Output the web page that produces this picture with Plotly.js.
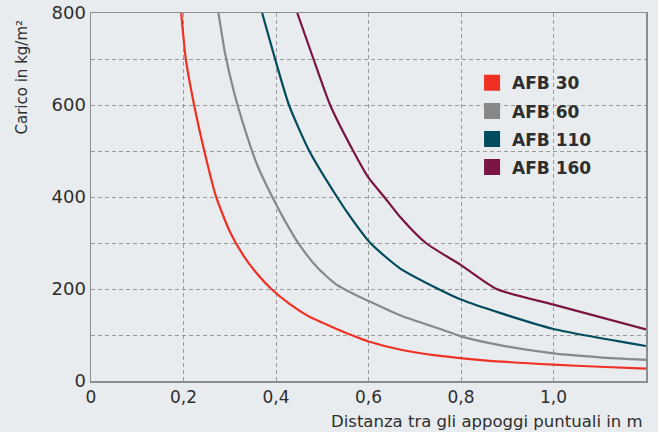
<!DOCTYPE html>
<html>
<head>
<meta charset="utf-8">
<script src="https://cdn.plot.ly/plotly-3.0.1.min.js"></script>
<style>html,body{margin:0;padding:0;background:#E9ECEF;}#chart{width:658px;height:432px;}</style>
</head>
<body>
<div id="chart"></div>
<script>
// Series names
const seriesNames = ['AFB 30', 'AFB 60', 'AFB 110', 'AFB 160'];

// Distances (m) and loads (kg/m²)
const xAFB30 = [0.195, 0.205, 0.223, 0.245, 0.27, 0.3, 0.33, 0.36, 0.39, 0.43, 0.47, 0.52, 0.56, 0.6, 0.67, 0.75, 0.85, 1.0, 1.1, 1.2];
const yAFB30 = [800, 700, 600, 500, 402, 325, 272, 232, 200, 167, 141, 118, 101, 86, 68, 55, 45, 35.5, 31, 27];

const xAFB60 = [0.2756, 0.29, 0.31, 0.335, 0.36, 0.392, 0.42, 0.45, 0.49, 0.53, 0.57, 0.6, 0.668, 0.755, 0.8, 0.884, 1.0, 1.1, 1.2];
const yAFB60 = [800, 712, 625, 540, 468, 400, 347, 297, 246, 210, 188, 174, 143, 113, 97, 78, 60, 51.5, 46];

const xAFB110 = [0.370, 0.398, 0.428, 0.472, 0.532, 0.56, 0.604, 0.668, 0.751, 0.8, 0.884, 1.0, 1.2];
const yAFB110 = [800, 700, 600, 500, 400, 358, 300, 245, 200, 177, 148, 113, 76];

const xAFB160 = [0.446, 0.481, 0.517, 0.567, 0.6, 0.634, 0.668, 0.724, 0.8, 0.877, 1.0, 1.2];
const yAFB160 = [800, 700, 600, 500, 442, 400, 357, 300, 252, 200, 166, 112];

const xTickVals = [0, 0.2, 0.4, 0.6, 0.8, 1.0, 1.2];
const xTickText = ['0', '0,2', '0,4', '0,6', '0,8', '1,0', '1,2'];
const yTickVals = [0, 200, 400, 600, 800];
const yTickText = ['0', '200', '400', '600', '800'];

const colors = ['#EE3124', '#87888A', '#004B5C', '#7A1443'];

const xs = [xAFB30, xAFB60, xAFB110, xAFB160];
const ys = [yAFB30, yAFB60, yAFB110, yAFB160];

const traces = [];
for (let i = 0; i < 4; i++) {
  traces.push({
    x: xs[i], y: ys[i], type: 'scatter', mode: 'lines',
    line: {color: colors[i], width: 2.2, shape: 'spline', smoothing: 0.6},
    showlegend: false, hoverinfo: 'skip', cliponaxis: true
  });
}
for (let i = 0; i < 4; i++) {
  traces.push({
    x: [null], y: [null], type: 'scatter', mode: 'markers',
    name: seriesNames[i], legendgroup: 'g' + i,
    marker: {symbol: 'square', size: 16, color: colors[i]},
    showlegend: true
  });
}

const gridCol = '#9A9B9D';
const axisCol = '#8C8D8F';
const textCol = '#2E2E2E';
const fontFam = 'DejaVu Sans, sans-serif';

const layout = {
  width: 658, height: 432,
  paper_bgcolor: '#E9ECEF', plot_bgcolor: '#E9ECEF',
  margin: {l: 91, r: 12, t: 13, b: 51},
  showlegend: true,
  legend: {
    x: 0.6866, y: 0.858, xanchor: 'left', yanchor: 'top',
    bgcolor: 'rgba(0,0,0,0)', borderwidth: 0,
    tracegroupgap: 3,
    font: {family: fontFam, size: 17, color: textCol, weight: 'bold'}
  },
  xaxis: {
    range: [0, 1.2], tickvals: xTickVals, ticktext: xTickText,
    showgrid: true, gridcolor: gridCol, griddash: '4px,3px', gridwidth: 1,
    showline: true, linecolor: axisCol, linewidth: 1.5, mirror: true,
    zeroline: false, ticks: '',
    tickfont: {family: fontFam, size: 17, color: textCol},
    fixedrange: true
  },
  yaxis: {
    range: [0, 800], tickvals: yTickVals, ticktext: yTickText,
    showgrid: true, gridcolor: gridCol, griddash: '4px,3px', gridwidth: 1,
    minor: {dtick: 100, showgrid: true, gridcolor: gridCol, griddash: '4px,3px', gridwidth: 1},
    showline: true, linecolor: axisCol, linewidth: 1.5, mirror: true,
    zeroline: false, ticks: '',
    tickfont: {family: fontFam, size: 18, color: textCol},
    fixedrange: true
  },
  annotations: [{
    text: 'Distanza tra gli appoggi puntuali in m',
    xref: 'paper', yref: 'paper', x: 1, y: 0, xanchor: 'right', yanchor: 'top',
    yshift: -29, xshift: -1, showarrow: false,
    font: {family: fontFam, size: 16.5, color: textCol}
  }, {
    text: 'Carico in kg/m²', textangle: -90,
    xref: 'paper', yref: 'paper', x: 0, y: 1, xanchor: 'center', yanchor: 'top',
    xshift: -70, yshift: -5, showarrow: false,
    font: {family: fontFam, size: 15, color: textCol}
  }]
};

Plotly.newPlot('chart', traces, layout, {displayModeBar: false, staticPlot: true});
</script>
</body>
</html>
